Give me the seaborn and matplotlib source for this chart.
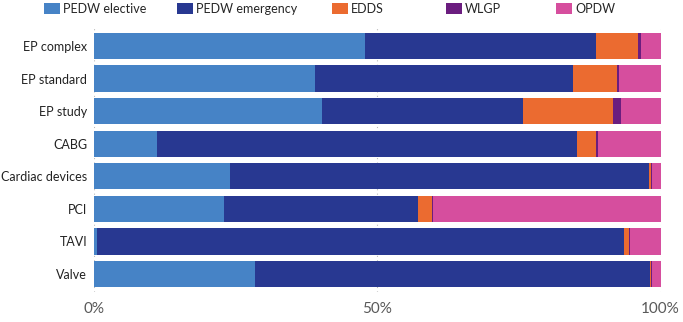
import matplotlib
matplotlib.use("Agg")
import matplotlib.pyplot as plt
import seaborn as sns
import pandas as pd
import numpy as np
from matplotlib.patches import Patch

categories = ["EP complex", "EP standard", "EP study", "CABG",
              "Cardiac devices", "PCI", "TAVI", "Valve"]
series = ["PEDW elective", "PEDW emergency", "EDDS", "WLGP", "OPDW"]
pedw_elective = [47.8, 39.0, 40.3, 11.2, 24.0, 22.9, 0.6, 28.4]
pedw_emergency = [40.9, 45.6, 35.5, 74.1, 74.0, 34.3, 93.0, 69.7]
edds = [7.4, 7.8, 15.9, 3.4, 0.4, 2.5, 0.9, 0.3]
wlgp = [0.4, 0.2, 1.3, 0.3, 0.1, 0.2, 0.2, 0.1]
opdw = [3.5, 7.4, 7.0, 11.0, 1.5, 40.1, 5.3, 1.5]
colors = ["#4683C6", "#283891", "#EB6B30", "#6B1D7F", "#D64E9E"]
legend_x = [41, 174, 329, 443, 553]

sns.set_theme(style="white")
plt.rcParams['font.family'] = ['Lato', 'DejaVu Sans']

vals = np.array([pedw_elective, pedw_emergency, edds, wlgp, opdw])
vals = vals / vals.sum(axis=0) * 100
cum = np.cumsum(vals, axis=0)

fig = plt.figure(figsize=(6.83, 3.22), dpi=100)
ax = fig.add_axes([94/683, 1-292/322, (660.5-94)/683, (292-28)/322])

for i in range(len(series) - 1, -1, -1):
    df = pd.DataFrame({"cat": categories, "val": cum[i]})
    sns.barplot(data=df, y="cat", x="val", color=colors[i], ax=ax,
                orient="h", width=0.81, saturation=1, linewidth=0)

ax.set_xlim(0, 100)
ax.set_ylim(7.55, -0.55)
ax.set_xticks([0, 50, 100])
ax.set_xticklabels(["0%", "50%", "100%"], color="#595959", fontsize=11)
ax.set_xlabel("")
ax.set_ylabel("")
ax.tick_params(axis="y", labelsize=9, colors="#222222", length=0, pad=5)
ax.tick_params(axis="x", length=0, pad=7)
for s in ax.spines.values():
    s.set_visible(False)
ax.set_axisbelow(True)
ax.xaxis.grid(True, color="#BBBBBB", linestyle=(0, (1, 3)), linewidth=0.8)

for c, lab, lx in zip(colors, series, legend_x):
    h = Patch(facecolor=c, edgecolor="none")
    leg = fig.legend([h], [lab], loc="upper left",
                     bbox_to_anchor=(lx/683, 1.0), frameon=False, fontsize=9,
                     handlelength=1.3, handleheight=1.0, handletextpad=0.2,
                     borderpad=0.0, borderaxespad=0.25)

fig.savefig("out.png", dpi=100)
